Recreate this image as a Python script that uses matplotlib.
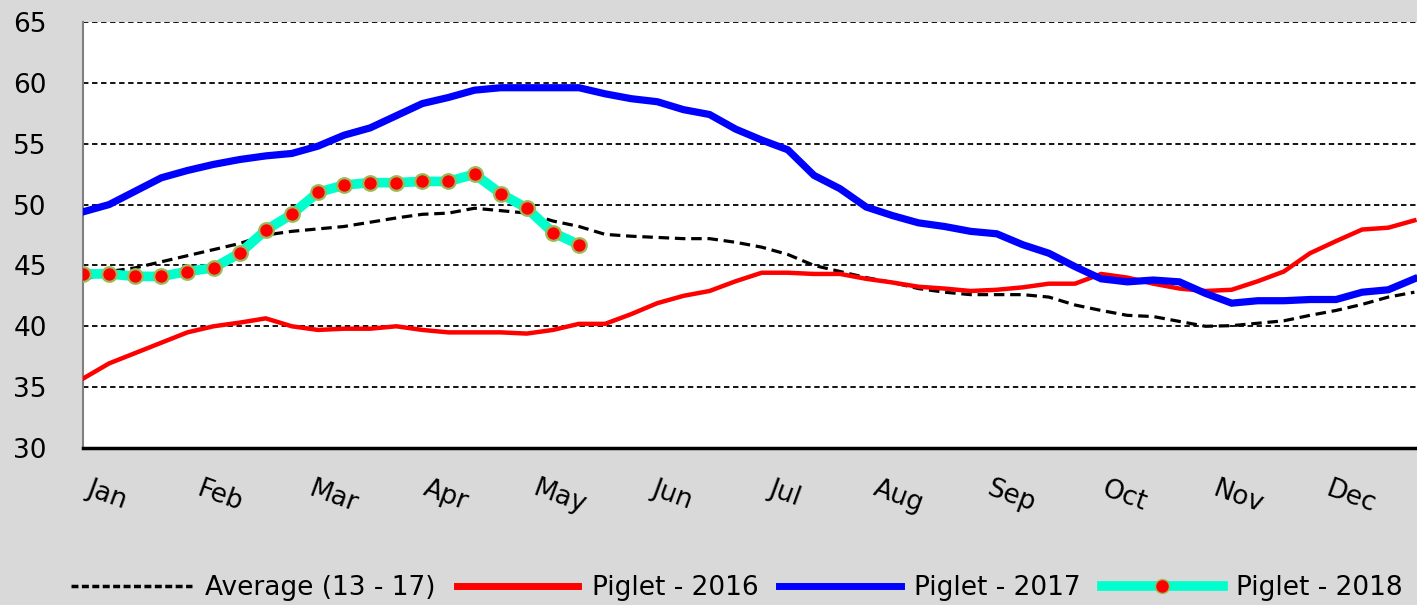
import numpy as np
import matplotlib
matplotlib.use('Agg')
import matplotlib.pyplot as plt
from matplotlib.lines import Line2D

# weekly piglet prices
months = ['Jan', 'Feb', 'Mar', 'Apr', 'May', 'Jun', 'Jul', 'Aug', 'Sep', 'Oct', 'Nov', 'Dec']

avg_13_17 = [43.8, 44.5, 44.8, 45.3, 45.8, 46.3, 46.8, 47.5, 47.8, 48.0,
             48.2, 48.55, 48.9, 49.2, 49.3, 49.7, 49.5, 49.3, 48.65, 48.2,
             47.55, 47.4, 47.3, 47.2, 47.2, 46.9, 46.5, 45.9, 45.0, 44.5,
             44.0, 43.6, 43.1, 42.8, 42.6, 42.6, 42.6, 42.4, 41.75, 41.3,
             40.9, 40.8, 40.4, 40.0, 40.05, 40.25, 40.45, 40.9, 41.3, 41.8,
             42.4, 42.8]

piglet_2016 = [35.7, 36.95, 37.8, 38.65, 39.5, 40.0, 40.3, 40.65, 40.0, 39.7,
               39.8, 39.8, 40.0, 39.7, 39.5, 39.5, 39.5, 39.4, 39.7, 40.2,
               40.2, 41.0, 41.9, 42.5, 42.9, 43.7, 44.4, 44.4, 44.3, 44.3,
               43.9, 43.6, 43.25, 43.1, 42.9, 43.0, 43.2, 43.5, 43.5, 44.3,
               44.0, 43.5, 43.1, 42.9, 43.0, 43.7, 44.5, 46.0, 47.0, 47.95,
               48.1, 48.7]

piglet_2017 = [49.4, 50.0, 51.1, 52.2, 52.8, 53.3, 53.7, 54.0, 54.2, 54.8,
               55.7, 56.3, 57.3, 58.3, 58.8, 59.4, 59.6, 59.6, 59.6, 59.6,
               59.1, 58.7, 58.45, 57.8, 57.4, 56.2, 55.3, 54.5, 52.4, 51.3,
               49.8, 49.1, 48.5, 48.2, 47.8, 47.6, 46.7, 46.0, 44.9, 43.9,
               43.65, 43.8, 43.65, 42.7, 41.9, 42.1, 42.1, 42.2, 42.2, 42.8,
               43.0, 43.9]

piglet_2018 = [44.3, 44.3, 44.1, 44.1, 44.5, 44.8, 46.0, 47.9, 49.2, 51.0,
               51.6, 51.8, 51.8, 51.9, 51.9, 52.5, 50.9, 49.7, 47.7, 46.7]

bg = '#d9d9d9'
fig = plt.figure(figsize=(14.17, 6.05), dpi=100, facecolor=bg)
ax = fig.add_axes([83 / 1417, 1 - 448 / 605, 1 - 83 / 1417, (448 - 22) / 605])
ax.set_facecolor('white')

ax.plot(np.arange(len(avg_13_17)), avg_13_17, color='black', lw=2.3,
        ls=(0, (3.3, 1.8)), zorder=3)
ax.plot(np.arange(len(piglet_2016)), piglet_2016, color='#ff0000', lw=3.2,
        solid_joinstyle='miter', zorder=4)
ax.plot(np.arange(len(piglet_2017)), piglet_2017, color='#0000ff', lw=5.2,
        solid_joinstyle='miter', zorder=5)
ax.plot(np.arange(len(piglet_2018)), piglet_2018, color='#00ffcc', lw=7,
        marker='o', markersize=10.5, markerfacecolor='#ff0000',
        markeredgecolor='#9bbb59', markeredgewidth=1.6, zorder=6)

ax.set_xlim(0, 51.1)
ax.set_ylim(30, 65)
ax.set_yticks(np.arange(30, 66, 5))
ax.yaxis.grid(True, color='black', ls=(0, (3, 2)), lw=1.3)
ax.set_axisbelow(True)

# month labels spread over the 52 weeks
ax.set_xticks(np.arange(12) * 52 / 12 + 0.9)
ax.set_xticklabels(months, rotation=-20, ha='center', fontsize=19)
ax.tick_params(axis='x', length=0, pad=20)
ax.tick_params(axis='y', length=0, pad=26, labelsize=19)

for s in ['top', 'right']:
    ax.spines[s].set_visible(False)
ax.spines['left'].set_color('#808080')
ax.spines['left'].set_linewidth(1.5)
ax.spines['bottom'].set_color('black')
ax.spines['bottom'].set_linewidth(2.5)

handles = [
    Line2D([], [], color='black', lw=2.5, ls=(0, (2, 1))),
    Line2D([], [], color='#ff0000', lw=5),
    Line2D([], [], color='#0000ff', lw=5),
    Line2D([], [], color='#00ffcc', lw=7, marker='o', markersize=10,
           markerfacecolor='#ff0000', markeredgecolor='#9bbb59'),
]
labels = ['Average (13 - 17)', 'Piglet - 2016', 'Piglet - 2017', 'Piglet - 2018']
fig.legend(handles, labels, loc='center', bbox_to_anchor=(0.52, 1 - 588 / 605),
           ncol=4, frameon=False, handlelength=4.6, columnspacing=0.8,
           handletextpad=0.5, fontsize=19)

fig.savefig('out.png', dpi=100, facecolor=bg)
